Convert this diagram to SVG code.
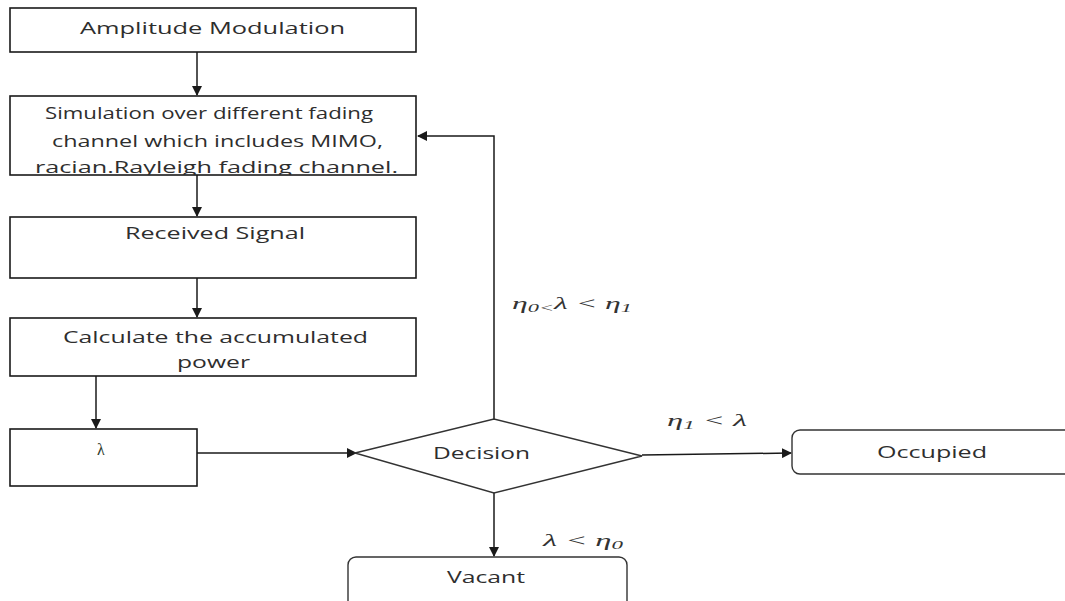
<svg xmlns="http://www.w3.org/2000/svg" width="1065" height="601" viewBox="0 0 1065 601">
<style>
.box{fill:#fff;stroke:#1a1a1a;stroke-width:1.6}
.rbox{fill:#fff;stroke:#333;stroke-width:1.4}
.t{font-family:"Open Sans","Liberation Sans",sans-serif;font-size:16px;fill:#2e2e2e}
.m{font-family:"Liberation Serif","DejaVu Serif",serif;font-style:italic;font-size:17px;fill:#333}
.c{stroke:#1a1a1a;stroke-width:1.5;fill:none}
</style>
<defs>
<marker id="ah" markerWidth="10" markerHeight="10" refX="9" refY="5" orient="auto" markerUnits="userSpaceOnUse">
<path d="M0,0 L10,5 L0,10 z" fill="#1a1a1a"/>
</marker>
<clipPath id="clip2"><rect x="10" y="96" width="406" height="79"/></clipPath>
</defs>
<rect width="1065" height="601" fill="#fff"/>
<g id="connectors">
<line class="c" x1="197" y1="52" x2="197" y2="95" marker-end="url(#ah)"/>
<line class="c" x1="197" y1="175" x2="197" y2="216" marker-end="url(#ah)"/>
<line class="c" x1="197" y1="278" x2="197" y2="317" marker-end="url(#ah)"/>
<line class="c" x1="96" y1="376" x2="96" y2="428" marker-end="url(#ah)"/>
<line class="c" x1="197" y1="453" x2="356" y2="453" marker-end="url(#ah)"/>
<polyline class="c" points="494,419 494,136 418,136" marker-end="url(#ah)"/>
<line class="c" x1="642" y1="455" x2="791" y2="453" marker-end="url(#ah)"/>
<line class="c" x1="494" y1="493" x2="494" y2="556" marker-end="url(#ah)"/>
<text class="m" x="512" y="309" textLength="120" lengthAdjust="spacingAndGlyphs">η<tspan font-size="12" dy="3">0&lt;</tspan><tspan dy="-3">λ &lt; η</tspan><tspan font-size="12" dy="3">1</tspan></text>
<text class="m" x="667" y="426" textLength="80" lengthAdjust="spacingAndGlyphs">η<tspan font-size="12" dy="3">1</tspan><tspan dy="-3"> &lt; λ</tspan></text>
<text class="m" x="543" y="546" textLength="80" lengthAdjust="spacingAndGlyphs">λ &lt; η<tspan font-size="12" dy="3">0</tspan></text>
</g>
<g id="n1">
<rect class="box" x="10" y="8" width="406" height="44"/>
<text class="t" x="80" y="34" textLength="265" lengthAdjust="spacingAndGlyphs">Amplitude Modulation</text>
</g>
<g id="n2">
<rect class="box" x="10" y="96" width="406" height="79"/>
<g clip-path="url(#clip2)">
<text class="t" x="45" y="119" textLength="328" lengthAdjust="spacingAndGlyphs">Simulation over different fading</text>
<text class="t" x="52" y="147" textLength="331" lengthAdjust="spacingAndGlyphs">channel which includes MIMO,</text>
<text class="t" x="35" y="173" textLength="363" lengthAdjust="spacingAndGlyphs">racian.Rayleigh fading channel.</text>
</g>
</g>
<g id="n3">
<rect class="box" x="10" y="217" width="406" height="61"/>
<text class="t" x="125" y="239" textLength="180" lengthAdjust="spacingAndGlyphs">Received Signal</text>
</g>
<g id="n4">
<rect class="box" x="10" y="318" width="406" height="58"/>
<text class="t" x="63" y="343" textLength="305" lengthAdjust="spacingAndGlyphs">Calculate the accumulated</text>
<text class="t" x="177" y="368" textLength="73" lengthAdjust="spacingAndGlyphs">power</text>
</g>
<g id="n5">
<rect class="box" x="10" y="429" width="187" height="57"/>
<text x="97" y="455" font-family="Liberation Serif, serif" font-size="16" fill="#2d3a2a">λ</text>
</g>
<g id="decision">
<polygon class="rbox" points="355,453 494,419 642,456 494,493"/>
<text class="t" x="433" y="459" textLength="97" lengthAdjust="spacingAndGlyphs">Decision</text>
</g>
<g id="occupied">
<rect class="rbox" x="792" y="430" width="290" height="44" rx="8"/>
<text class="t" x="877" y="458" textLength="110" lengthAdjust="spacingAndGlyphs">Occupied</text>
</g>
<g id="vacant">
<rect class="rbox" x="348" y="557" width="279" height="60" rx="8"/>
<text class="t" x="447" y="583" textLength="78" lengthAdjust="spacingAndGlyphs">Vacant</text>
</g>
</svg>
